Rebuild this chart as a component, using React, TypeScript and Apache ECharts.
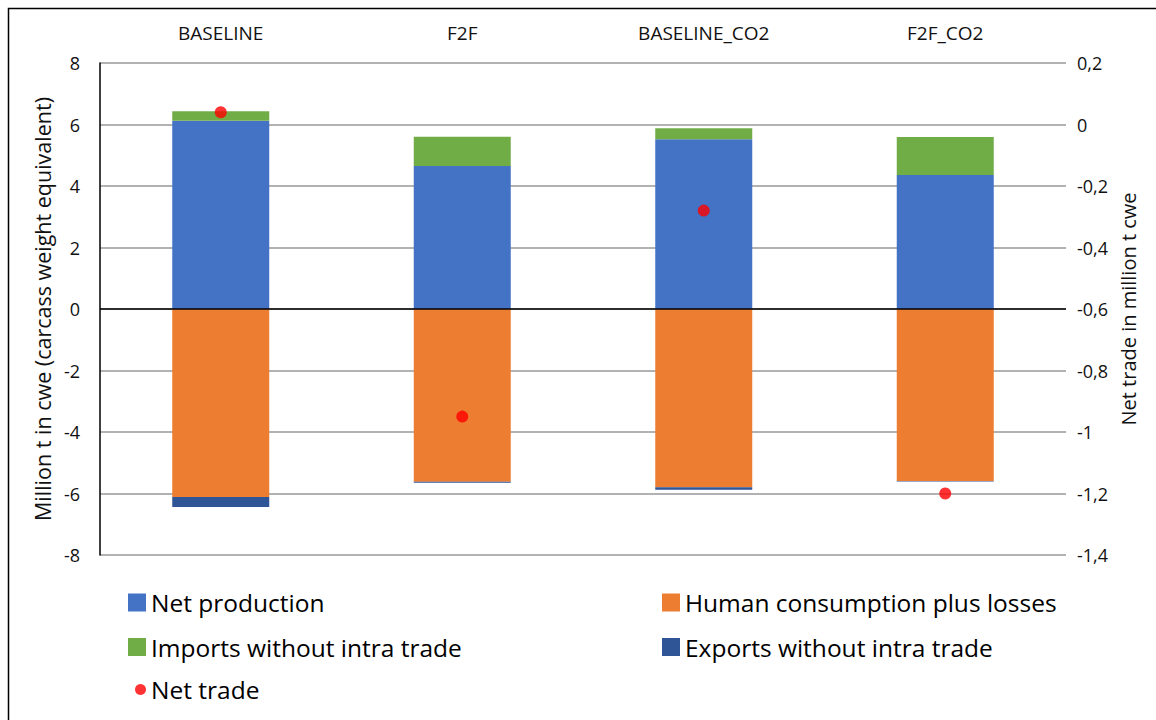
import React, { useEffect, useRef } from "react";
import * as echarts from "echarts";

const categories = ["BASELINE", "F2F", "BASELINE_CO2", "F2F_CO2"];
const netProduction = [6.12, 4.65, 5.52, 4.36];
const imports = [0.31, 0.95, 0.36, 1.23];
const consumption = [-6.11, -5.62, -5.8, -5.59];
const exportsVals = [-0.33, -0.03, -0.08, -0.02];
const netTrade = [0.04, -0.95, -0.28, -1.2];

const FONT = "'Open Sans', Lato, sans-serif";

export default function App() {
  const ref = useRef<HTMLDivElement>(null);
  useEffect(() => {
    document.body.style.margin = "0";
    const chart = echarts.init(ref.current!, null, { renderer: "svg" });
    const fmt = (v: number) => {
      const r = Math.round(v * 10) / 10;
      return (Object.is(r, -0) ? 0 : r).toString().replace(".", ",");
    };
    const legendText = { fontSize: 24.5, lineHeight: 24, color: "#000", fontFamily: FONT };
    chart.setOption({
      animation: false,
      textStyle: { fontFamily: FONT },
      graphic: [
        {
          type: "rect",
          shape: { x: 8.5, y: 8.5, width: 1160, height: 730 },
          style: { fill: "none", stroke: "#000", lineWidth: 1.5 },
          silent: true,
          z: -10,
        },
      ],
      grid: { left: 100, right: 90, top: 63, bottom: 165 },
      legend: [
        {
          orient: "vertical",
          left: 123,
          top: 585,
          itemGap: 19.5,
          itemWidth: 18,
          itemHeight: 18,
          textStyle: legendText,
          data: [
            { name: "Net production", icon: "rect" },
            { name: "Imports without intra trade", icon: "rect" },
          ],
        },
        {
          orient: "vertical",
          left: 130,
          top: 672,
          itemWidth: 11,
          itemHeight: 11,
          textStyle: legendText,
          data: [{ name: "Net trade", icon: "circle" }],
        },
        {
          orient: "vertical",
          left: 657,
          top: 585,
          itemGap: 19.5,
          itemWidth: 18,
          itemHeight: 18,
          textStyle: legendText,
          data: [
            { name: "Human consumption plus losses", icon: "rect" },
            { name: "Exports without intra trade", icon: "rect" },
          ],
        },
      ],
      xAxis: {
        type: "category",
        position: "top",
        data: categories,
        axisLine: { show: false },
        axisTick: { show: false },
        axisLabel: { fontSize: 19, color: "#111", margin: 21, fontFamily: FONT },
      },
      yAxis: [
        {
          type: "value",
          min: -8,
          max: 8,
          interval: 2,
          name: "Million t in cwe (carcass weight equivalent)",
          nameLocation: "middle",
          nameGap: 42,
          nameRotate: 90,
          nameTextStyle: { fontSize: 21.5, color: "#111", fontFamily: FONT },
          axisLine: { show: true, lineStyle: { color: "#000", width: 1.5 } },
          axisTick: { show: false },
          axisLabel: { fontSize: 18, color: "#111", margin: 20, fontFamily: FONT },
          splitLine: { show: true, lineStyle: { color: "#999", width: 1.5 } },
        },
        {
          type: "value",
          min: -1.4,
          max: 0.2,
          interval: 0.2,
          name: "Net trade in million t cwe",
          nameLocation: "middle",
          nameGap: 52,
          nameRotate: 90,
          nameTextStyle: { fontSize: 20, color: "#111", fontFamily: FONT },
          axisLine: { show: false },
          axisTick: { show: false },
          axisLabel: { fontSize: 18, color: "#111", margin: 11, formatter: fmt, fontFamily: FONT },
          splitLine: { show: false },
        },
      ],
      series: [
        {
          name: "Net production",
          type: "bar",
          stack: "a",
          barWidth: 97,
          data: netProduction,
          itemStyle: { color: "#4472C4" },
          markLine: {
            silent: true,
            symbol: "none",
            label: { show: false },
            lineStyle: { color: "#000", width: 1.5, type: "solid" },
            data: [{ yAxis: 0 }],
            z: 10,
          },
        },
        {
          name: "Human consumption plus losses",
          type: "bar",
          stack: "a",
          barWidth: 97,
          data: consumption,
          itemStyle: { color: "#ED7D31" },
        },
        {
          name: "Imports without intra trade",
          type: "bar",
          stack: "a",
          barWidth: 97,
          data: imports,
          itemStyle: { color: "#70AD47" },
        },
        {
          name: "Exports without intra trade",
          type: "bar",
          stack: "a",
          barWidth: 97,
          data: exportsVals,
          itemStyle: { color: "#2F5597" },
        },
        {
          name: "Net trade",
          type: "scatter",
          yAxisIndex: 1,
          symbol: "circle",
          symbolSize: 12,
          data: netTrade,
          itemStyle: { color: "#FF0000" },
          z: 20,
        },
      ],
    });
    return () => chart.dispose();
  }, []);
  return (
    <div
      ref={ref}
      style={{ position: "fixed", left: 0, top: 0, width: 1156, height: 720, background: "#fff" }}
    />
  );
}
